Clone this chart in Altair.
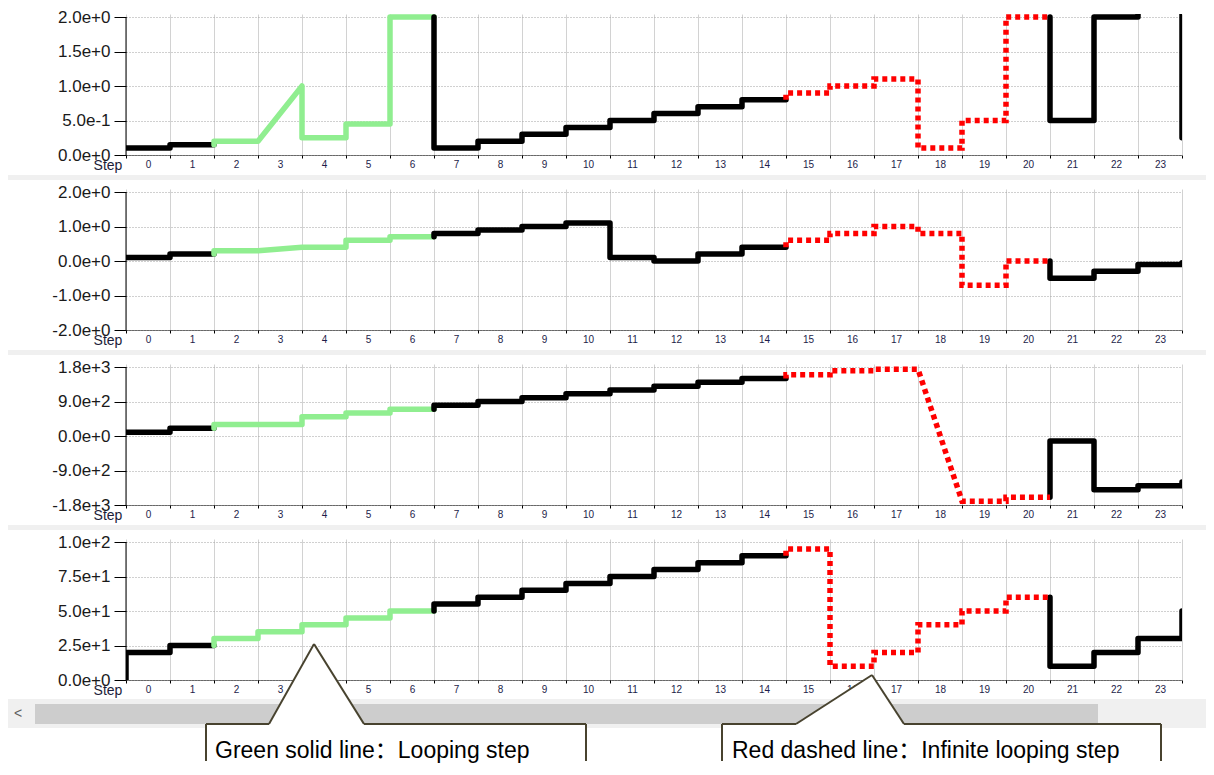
import altair as alt
import pandas as pd

# ---------------- data ----------------
STEPS = list(range(25))  # step 24 is only partly visible at the right edge
KINDS = ["normal"] * 2 + ["loop"] * 5 + ["normal"] * 8 + ["infinite"] * 6 + ["normal"] * 4

P1_VALUES = [0.1, 0.15, 0.2, 1.0, 0.25, 0.45, 2.0, 0.1, 0.2, 0.3, 0.4, 0.5, 0.6,
             0.7, 0.8, 0.9, 1.0, 1.1, 0.1, 0.5, 2.0, 0.5, 2.0, 3.0, 0.25]
P2_VALUES = [0.1, 0.2, 0.3, 0.4, 0.4, 0.6, 0.7, 0.8, 0.9, 1.0, 1.1, 0.1, 0.0,
             0.2, 0.4, 0.6, 0.8, 1.0, 0.8, -0.7, 0.0, -0.5, -0.3, -0.1, -0.05]
P3_VALUES = [100, 200, 300, 300, 500, 600, 700, 800, 900, 1000, 1100, 1200, 1300,
             1400, 1500, 1600, 1700, 1740, -1700, -1700, -1600, -130, -1400, -1300, -1200]
P4_VALUES = [20, 25, 30, 35, 40, 45, 50, 55, 60, 65, 70, 75, 80, 85, 90, 95, 10,
             20, 40, 50, 60, 10, 20, 30, 50]

P1_START, P2_START, P3_START, P4_START = 0.1, 0.1, 100, 0
P1_RAMPS, P2_RAMPS, P3_RAMPS, P4_RAMPS = [3], [3], [18], []

P1_TICKS = [0, 0.5, 1.0, 1.5, 2.0]
P2_TICKS = [-2, -1, 0, 1, 2]
P3_TICKS = [-1800, -900, 0, 900, 1800]
P4_TICKS = [0, 25, 50, 75, 100]

KIND_DOMAIN = ["normal", "loop", "infinite"]
KIND_COLORS = ["#000000", "#90ee90", "#ff0000"]

CALLOUT_TEXTS = ["Green solid line：Looping step", "Red dashed line：Infinite looping step"]

# ---------------- layout constants ----------------
W, H = 1056, 141
TOP_PAD_PX = 3
LINE_W = 5.5
FONT = "Liberation Sans, Arial, Noto Sans CJK SC, sans-serif"


def step_rows(values, start, ramps):
    rows, run, order, prev = [], 0, 0, start
    last = len(values) - 1
    for i, v in enumerate(values):
        k = KINDS[i]
        if i > 0 and k != KINDS[i - 1]:
            run += 1
        if i in ramps:
            pts = [(i, prev), (i + 1, v)]
        elif i == last:
            pts = [(i, prev), (i, v)]
        else:
            pts = [(i, prev), (i, v), (i + 1, v)]
        for x, y in pts:
            rows.append({"x": x, "y": y, "kind": k, "run": run, "ord": order})
            order += 1
        prev = v
    return pd.DataFrame(rows)


X_AXIS = alt.Axis(
    values=STEPS, format="d", labelExpr="datum.value < 24 ? datum.label : ''",
    labelOffset=W / 48, labelFlush=False, labelOverlap=False,
    labelFontSize=10, labelFont=FONT, labelColor="#1d1d4a", labelPadding=1,
    tickSize=3, tickColor="black", tickWidth=1,
    domain=True, domainColor="black", domainDash=[1, 1], domainWidth=1,
    grid=True, gridColor="#d2d2d2", gridWidth=1, title=None,
)


def y_axis(ticks):
    return alt.Axis(
        values=ticks, format=".1e", labelExpr="replace(datum.label, '\u2212', '-')",
        labelFontSize=17, labelFont=FONT, labelColor="#1a1a1a", labelPadding=4,
        tickSize=12, tickColor="black", tickWidth=1, domain=False,
        grid=True, gridColor="#a0a0a0", gridDash=[1, 2], gridWidth=1, title=None,
    )


def px_rect(x0, x1, y0, y1, color):
    d = pd.DataFrame({"x0": [x0], "x1": [x1], "y0": [y0], "y1": [y1]})
    return alt.Chart(d).mark_rect(color=color).encode(
        x=alt.X("x0:Q", scale=None), x2="x1:Q",
        y=alt.Y("y0:Q", scale=None), y2="y1:Q")


def make_panel(values, start, ramps, ticks, extras):
    df = step_rows(values, start, ramps)
    lo, hi = ticks[0], ticks[-1]
    pad = (hi - lo) * TOP_PAD_PX / (H - TOP_PAD_PX)
    xenc = alt.X("x:Q", scale=alt.Scale(domain=[0, 24], nice=False, zero=False), axis=X_AXIS)
    yenc = alt.Y("y:Q", scale=alt.Scale(domain=[lo, hi + pad], nice=False, zero=False),
                 axis=y_axis(ticks))
    base = alt.Chart(df)
    solid = base.transform_filter("datum.kind != 'infinite'").mark_line(
        strokeWidth=LINE_W, strokeCap="round", strokeJoin="round", clip=True
    ).encode(
        x=xenc, y=yenc,
        color=alt.Color("kind:N", scale=alt.Scale(domain=KIND_DOMAIN, range=KIND_COLORS), legend=None),
        detail="run:N", order="ord:Q")
    dashed = base.transform_filter("datum.kind == 'infinite'").mark_line(
        strokeWidth=LINE_W, strokeDash=[5, 4], strokeCap="butt", color="#ff0000", clip=True
    ).encode(x=xenc, y=yenc, detail="run:N", order="ord:Q")
    axis_rule = alt.Chart(pd.DataFrame({"y": [lo], "y2": [hi]})).mark_rule(
        color="black", strokeWidth=1).encode(x=alt.value(0), y=yenc, y2="y2:Q")
    step_lbl = alt.Chart(pd.DataFrame({"t": ["Step"]})).mark_text(
        font=FONT, fontSize=14, color="#1d1d3a", align="center", baseline="middle"
    ).encode(text="t:N", x=alt.value(-18), y=alt.value(H + 11))
    return alt.layer(*extras, solid, dashed, axis_rule, step_lbl).properties(width=W, height=H)


def band():
    return [px_rect(-118, 1080, 161, 166, "#f0f0f0")]


# ---------------- scrollbar + callouts (panel 4, pixel frame) ----------------
scroll = [
    px_rect(-118, 1080, 160, 189, "#f0f0f0"),
    px_rect(-91, 972, 165, 185, "#cdcdcd"),
    alt.Chart(pd.DataFrame({"t": ["<"], "px": [-108], "py": [175]})).mark_text(
        font=FONT, fontSize=14, color="#606060", align="center", baseline="middle"
    ).encode(text="t:N", x=alt.X("px:Q", scale=None), y=alt.Y("py:Q", scale=None)),
]

tails = pd.DataFrame({
    "cid": ["a", "a", "a", "b", "b", "b"],
    "px": [143, 188, 238, 670, 746, 778],
    "py": [185, 105, 185, 185, 136, 185],
    "base": [185] * 6,
})
tail_fill = alt.Chart(tails).mark_area(color="white", opacity=1).encode(
    x=alt.X("px:Q", scale=None), y=alt.Y("py:Q", scale=None), y2="base:Q", detail="cid:N")

box_fill = [px_rect(80, 460, 185, 222, "white"), px_rect(596, 1035, 185, 222, "white")]

segs = pd.DataFrame({
    "sx": [80, 238, 80, 460, 143, 188, 596, 778, 596, 1035, 670, 746],
    "sy": [185, 185, 185, 185, 185, 105, 185, 185, 185, 185, 185, 136],
    "ex": [143, 460, 80, 460, 188, 238, 670, 1035, 596, 1035, 746, 778],
    "ey": [185, 185, 222, 222, 105, 185, 185, 185, 222, 222, 136, 185],
})
outline = alt.Chart(segs).mark_rule(color="#48432f", strokeWidth=2).encode(
    x=alt.X("sx:Q", scale=None), y=alt.Y("sy:Q", scale=None), x2="ex:Q", y2="ey:Q")

texts = pd.DataFrame({"label": CALLOUT_TEXTS, "tx": [89, 606], "ty": [212, 212]})
callout_text = alt.Chart(texts).mark_text(
    font=FONT, fontSize=23, color="black", align="left", baseline="middle"
).encode(text="label:N", x=alt.X("tx:Q", scale=None), y=alt.Y("ty:Q", scale=None))

p1 = make_panel(P1_VALUES, P1_START, P1_RAMPS, P1_TICKS, band())
p2 = make_panel(P2_VALUES, P2_START, P2_RAMPS, P2_TICKS, band())
p3 = make_panel(P3_VALUES, P3_START, P3_RAMPS, P3_TICKS, band())
p4_core = make_panel(P4_VALUES, P4_START, P4_RAMPS, P4_TICKS, scroll)
p4 = alt.layer(p4_core, tail_fill, *box_fill, outline, callout_text).properties(width=W, height=H)

chart = alt.vconcat(p1, p2, p3, p4, spacing=34, bounds="flush").properties(
    background="white", padding={"left": 0, "top": 0, "right": 0, "bottom": 0}
).configure_view(stroke=None)

chart.save("out.html", embed_options={"renderer": "svg", "actions": False})
